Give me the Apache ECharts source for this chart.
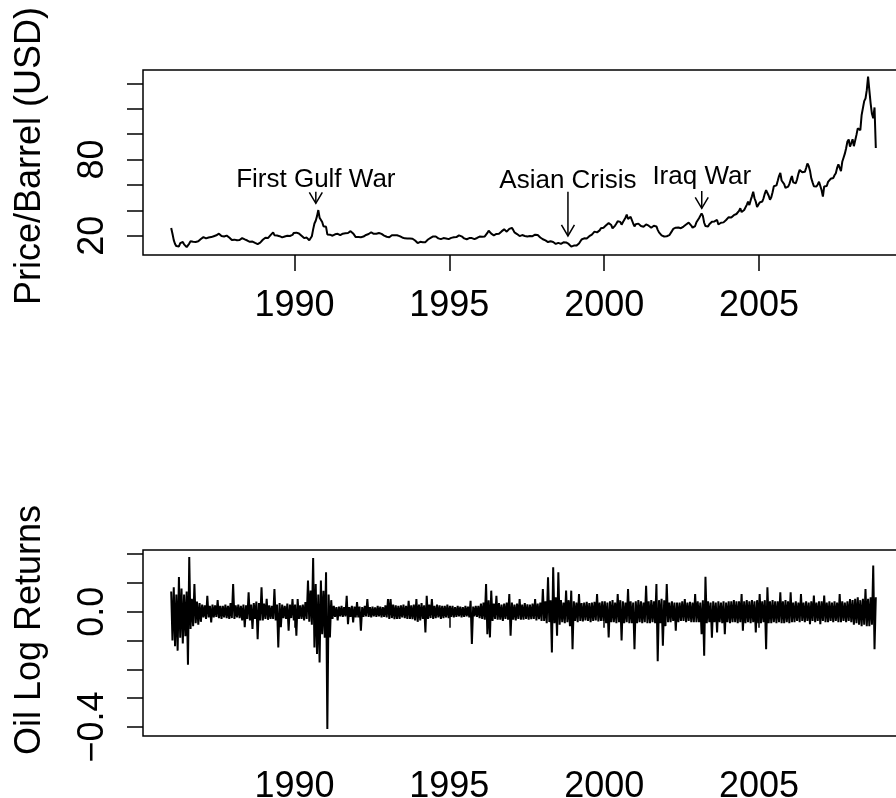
<!DOCTYPE html>
<html>
<head>
<meta charset="utf-8">
<title>Oil price and log returns</title>
<script src="https://cdn.jsdelivr.net/npm/echarts@6/dist/echarts.min.js"></script>
<style>
  html, body { margin: 0; padding: 0; background: #fff; }
  #main { width: 896px; height: 798px; }
</style>
</head>
<body>
<div id="main"></div>
<script>
// time series sampled twice a month, first point at 1986.02
var seriesStart = 1986.02;
var perYear = 24;

// WTI spot price, USD per barrel
var price = [
  26.0, 21.5, 16.5, 13.5, 11.8, 12.8, 11.5, 14.2, 15.6, 15.0, 13.2, 12.4,
  11.0, 10.6, 13.8, 15.6, 14.5, 15.2, 14.8, 15.1, 15.0, 15.6, 16.2, 17.4,
  18.6, 18.9, 17.6, 17.9, 18.2, 18.6, 18.5, 18.9, 19.4, 19.6, 19.9, 20.3,
  21.2, 21.6, 20.7, 19.8, 19.6, 19.4, 19.8, 20.1, 19.0, 18.6, 17.8, 16.6,
  17.2, 16.9, 17.1, 16.4, 16.0, 16.6, 17.6, 18.1, 17.6, 17.1, 16.8, 16.2,
  15.8, 15.2, 15.6, 15.4, 14.6, 14.3, 13.9, 13.4, 13.8, 14.6, 15.9, 16.8,
  17.6, 18.4, 17.8, 18.1, 18.9, 20.4, 21.2, 22.6, 20.4, 19.9, 20.1, 19.8,
  19.6, 19.9, 18.7, 18.4, 19.4, 19.9, 20.0, 20.3, 19.8, 19.9, 20.6, 22.2,
  23.4, 22.4, 22.5, 21.7, 20.9, 19.9, 18.9, 18.1, 17.9, 18.5, 17.0, 16.4,
  17.6, 19.6, 25.0, 29.6, 31.8, 35.4, 40.2, 34.2, 35.0, 30.8, 27.5, 28.4,
  27.0, 21.0, 20.2, 20.8, 19.8, 20.0, 20.6, 21.1, 21.0, 21.5, 20.0, 20.4,
  21.3, 21.6, 21.5, 21.9, 21.7, 22.1, 22.7, 23.6, 23.0, 21.8, 20.6, 18.9,
  18.7, 18.9, 19.2, 18.8, 18.6, 19.3, 19.9, 20.6, 20.8, 21.3, 22.0, 22.7,
  22.0, 21.5, 21.1, 21.5, 21.7, 22.1, 21.9, 21.4, 20.6, 20.1, 19.6, 19.2,
  19.3, 18.8, 19.8, 20.4, 20.2, 20.4, 20.1, 20.4, 20.1, 19.7, 19.5, 18.6,
  17.8, 17.9, 18.2, 17.8, 17.4, 17.7, 18.6, 17.6, 16.8, 16.2, 14.9, 14.2,
  14.9, 15.2, 14.6, 14.9, 14.5, 14.9, 15.8, 17.0, 17.6, 18.2, 18.7, 19.4,
  19.9, 19.4, 18.8, 17.9, 17.6, 17.3, 17.2, 18.1, 18.3, 17.8, 17.0, 17.3,
  17.8, 18.3, 18.5, 18.7, 18.2, 18.9, 19.6, 20.3, 19.9, 19.5, 18.8, 17.9,
  17.4, 17.2, 17.9, 18.1, 18.3, 18.1, 17.6, 17.3, 17.8, 18.2, 18.9, 19.3,
  18.4, 19.2, 18.9, 19.4, 20.6, 22.2, 23.9, 23.1, 21.6, 20.8, 20.3, 20.6,
  21.4, 21.2, 21.6, 22.2, 23.4, 24.6, 25.0, 24.6, 23.2, 23.9, 25.4, 25.8,
  26.2, 24.6, 22.6, 21.7, 21.3, 20.7, 19.7, 19.6, 20.5, 21.2, 19.8, 18.8,
  19.4, 19.9, 19.8, 20.1, 19.6, 20.0, 20.8, 21.6, 20.6, 19.8, 18.6, 18.0,
  17.2, 16.4, 16.3, 15.9, 15.0, 15.6, 15.6, 15.2, 15.0, 14.8, 13.5, 13.9,
  14.4, 14.0, 13.6, 13.3, 14.8, 15.6, 14.7, 14.2, 13.5, 12.5, 11.4, 10.9,
  12.2, 12.6, 12.2, 11.8, 13.8, 15.4, 17.0, 17.6, 17.9, 17.6, 17.8, 18.3,
  19.6, 20.5, 20.9, 21.8, 23.2, 24.3, 22.6, 22.3, 24.2, 25.8, 25.8, 26.3,
  26.4, 28.2, 29.2, 29.9, 31.3, 28.4, 25.7, 25.8, 28.0, 29.6, 31.4, 32.1,
  30.9, 28.7, 30.6, 32.1, 34.2, 36.6, 33.2, 33.4, 34.9, 34.1, 29.6, 27.3,
  29.0, 30.2, 29.5, 29.8, 27.6, 26.9, 27.1, 27.9, 28.9, 28.3, 27.9, 26.6,
  26.3, 26.8, 27.8, 26.9, 27.3, 24.6, 22.6, 21.8, 20.3, 18.9, 19.4, 19.5,
  19.6, 19.9, 20.4, 21.1, 23.6, 25.3, 26.1, 26.3, 27.0, 26.5, 25.0, 25.9,
  26.5, 27.2, 27.9, 28.8, 29.3, 30.3, 29.0, 28.0, 26.3, 26.5, 27.6, 30.6,
  32.2, 33.8, 35.2, 37.6, 35.6, 30.2, 27.6, 28.6, 27.3, 29.0, 30.2, 31.0,
  30.3, 31.2, 31.0, 32.4, 28.8, 28.1, 30.2, 30.6, 30.5, 31.6, 32.4, 32.9,
  34.6, 34.0, 34.4, 35.0, 36.2, 37.4, 37.1, 36.5, 39.5, 41.6, 38.6, 37.6,
  40.2, 41.3, 44.3, 46.8, 44.1, 47.8, 51.0, 54.6, 49.5, 46.8, 42.6, 43.4,
  46.2, 47.4, 46.9, 49.5, 53.2, 55.9, 53.6, 51.5, 48.4, 50.2, 54.2, 58.9,
  58.3, 59.6, 63.2, 67.0, 69.5, 63.5, 62.8, 60.6, 57.6, 57.7, 58.6, 60.6,
  64.1, 67.0, 62.0, 61.1, 61.3, 64.5, 68.7, 71.8, 71.6, 69.9, 70.8, 70.3,
  73.3, 76.8, 74.9, 71.2, 65.2, 62.0, 58.9, 58.4, 58.7, 60.3, 62.5, 61.5,
  55.8, 50.8, 58.8, 60.2, 59.1, 62.4, 63.6, 64.8, 64.4, 65.4, 67.6, 69.2,
  73.4, 76.1, 74.8, 70.8, 78.2, 81.4, 84.6, 88.9, 94.2, 95.8, 90.1, 93.0,
  96.0, 90.5, 92.0, 99.4, 104.5, 106.0, 103.2, 115.0, 113.5, 126.0, 128.0, 134.6,
  145.3, 134.5, 124.0, 116.0, 112.5, 121.0, 89.0
];

// log returns envelope
var logReturns = [
  0.07, -0.10, 0.085, -0.12, 0.06, -0.135, 0.12, -0.09, 0.08, -0.11, 0.06, -0.085,
  0.07, -0.184, 0.19, -0.06, 0.045, -0.05, 0.096, -0.04, 0.035, -0.045, 0.03, -0.035,
  0.025, -0.02, 0.022, -0.025, 0.055, -0.02, 0.02, -0.037, 0.025, -0.02, 0.022, -0.018,
  0.04, -0.022, 0.02, -0.025, 0.02, -0.02, 0.025, -0.022, 0.02, -0.025, 0.03, -0.022,
  0.096, -0.025, 0.022, -0.02, 0.025, -0.022, 0.02, -0.03, 0.025, -0.054, 0.022, -0.025,
  0.067, -0.03, 0.025, -0.06, 0.03, -0.025, 0.035, -0.095, 0.03, -0.03, 0.085, -0.03,
  0.028, -0.025, 0.045, -0.028, 0.022, -0.025, 0.02, -0.025, 0.079, -0.03, 0.025, -0.124,
  0.03, -0.054, 0.025, -0.022, 0.02, -0.025, 0.028, -0.066, 0.025, -0.022, 0.044, -0.03,
  0.025, -0.083, 0.044, -0.025, 0.022, -0.025, 0.025, -0.03, 0.033, -0.025, 0.108, -0.035,
  0.073, -0.045, 0.186, -0.124, 0.096, -0.147, 0.06, -0.176, 0.108, -0.078, 0.073, -0.09,
  0.137, -0.407, 0.06, -0.089, 0.04, -0.025, 0.02, -0.018, 0.016, -0.03, 0.018, -0.016,
  0.02, -0.018, 0.016, -0.016, 0.055, -0.043, 0.016, -0.018, 0.02, -0.037, 0.018, -0.02,
  0.033, -0.02, 0.018, -0.066, 0.016, -0.018, 0.02, -0.016, 0.044, -0.018, 0.016, -0.02,
  0.018, -0.016, 0.015, -0.018, 0.02, -0.016, 0.018, -0.02, 0.016, -0.018, 0.022, -0.02,
  0.044, -0.025, 0.044, -0.022, 0.025, -0.026, 0.022, -0.025, 0.02, -0.025, 0.022, -0.02,
  0.025, -0.022, 0.02, -0.025, 0.038, -0.025, 0.022, -0.026, 0.025, -0.03, 0.044, -0.035,
  0.025, -0.03, 0.03, -0.025, 0.022, -0.072, 0.055, -0.025, 0.025, -0.022, 0.044, -0.025,
  0.02, -0.022, 0.025, -0.02, 0.022, -0.025, 0.02, -0.022, 0.02, -0.02, 0.025, -0.022,
  0.02, -0.018, 0.02, -0.02, 0.016, -0.018, 0.02, -0.016, 0.018, -0.02, 0.016, -0.018,
  0.02, -0.016, 0.018, -0.02, 0.038, -0.112, 0.018, -0.016, 0.02, -0.018, 0.02, -0.022,
  0.028, -0.025, 0.032, -0.028, 0.096, -0.078, 0.04, -0.089, 0.073, -0.032, 0.028, -0.025,
  0.055, -0.028, 0.03, -0.028, 0.025, -0.032, 0.028, -0.025, 0.032, -0.028, 0.061, -0.083,
  0.032, -0.028, 0.025, -0.03, 0.028, -0.025, 0.044, -0.028, 0.025, -0.028, 0.03, -0.025,
  0.026, -0.028, 0.025, -0.026, 0.028, -0.025, 0.044, -0.03, 0.028, -0.026, 0.032, -0.032,
  0.079, -0.032, 0.036, -0.04, 0.119, -0.036, 0.04, -0.141, 0.154, -0.04, 0.05, -0.083,
  0.137, -0.045, 0.04, -0.036, 0.032, -0.04, 0.073, -0.036, 0.04, -0.05, 0.073, -0.13,
  0.036, -0.032, 0.032, -0.036, 0.061, -0.032, 0.03, -0.034, 0.032, -0.03, 0.034, -0.032,
  0.03, -0.036, 0.032, -0.032, 0.034, -0.03, 0.061, -0.034, 0.032, -0.032, 0.036, -0.032,
  0.036, -0.04, 0.032, -0.089, 0.036, -0.036, 0.04, -0.036, 0.032, -0.04, 0.061, -0.036,
  0.04, -0.1, 0.036, -0.04, 0.032, -0.036, 0.079, -0.04, 0.036, -0.04, 0.032, -0.13,
  0.036, -0.04, 0.04, -0.036, 0.036, -0.04, 0.032, -0.036, 0.09, -0.04, 0.036, -0.04,
  0.04, -0.036, 0.036, -0.04, 0.096, -0.172, 0.04, -0.04, 0.045, -0.118, 0.04, -0.05,
  0.096, -0.036, 0.032, -0.036, 0.036, -0.032, 0.032, -0.066, 0.032, -0.036, 0.032, -0.032,
  0.036, -0.032, 0.044, -0.036, 0.032, -0.032, 0.034, -0.036, 0.032, -0.036, 0.061, -0.036,
  0.036, -0.036, 0.032, -0.078, 0.04, -0.153, 0.121, -0.04, 0.036, -0.036, 0.032, -0.09,
  0.036, -0.036, 0.032, -0.072, 0.036, -0.036, 0.032, -0.04, 0.036, -0.078, 0.032, -0.036,
  0.036, -0.04, 0.036, -0.036, 0.04, -0.036, 0.036, -0.04, 0.036, -0.036, 0.061, -0.066,
  0.036, -0.04, 0.04, -0.036, 0.036, -0.04, 0.04, -0.036, 0.036, -0.072, 0.04, -0.04,
  0.061, -0.04, 0.036, -0.036, 0.04, -0.13, 0.085, -0.04, 0.036, -0.04, 0.04, -0.036,
  0.036, -0.04, 0.036, -0.036, 0.067, -0.04, 0.036, -0.04, 0.04, -0.036, 0.036, -0.04,
  0.067, -0.036, 0.032, -0.036, 0.036, -0.032, 0.032, -0.036, 0.061, -0.032, 0.032, -0.036,
  0.036, -0.032, 0.032, -0.043, 0.036, -0.032, 0.056, -0.036, 0.032, -0.032, 0.036, -0.043,
  0.036, -0.032, 0.056, -0.036, 0.032, -0.036, 0.036, -0.032, 0.032, -0.036, 0.036, -0.032,
  0.032, -0.036, 0.061, -0.036, 0.036, -0.032, 0.032, -0.036, 0.036, -0.032, 0.044, -0.036,
  0.04, -0.045, 0.045, -0.04, 0.05, -0.045, 0.04, -0.05, 0.045, -0.045, 0.079, -0.05,
  0.045, -0.05, 0.05, -0.045, 0.16, -0.13, 0.05
];

// axis ticks and labels
var yearTicks = [1990, 1995, 2000, 2005];
var priceTicks = [20, 40, 60, 80, 100, 120, 140];
var priceLabels = [20, 80];
var returnTicks = [-0.4, -0.3, -0.2, -0.1, 0.0, 0.1, 0.2];
var returnLabels = [-0.4, 0.0];

// annotations: [label, year, text price, arrow from, arrow to]
var events = [
  ['First Gulf War', 1990.69, 63.9, 54.6, 45.5],
  ['Asian Crisis', 1998.83, 63.1, 54.6, 19.8],
  ['Iraq War', 2003.15, 66.2, 55.2, 41.6]
];

var FONT = '"Liberation Sans", Arial, Helvetica, sans-serif';

function toPairs(values) {
  return values.map(function (v, i) { return [seriesStart + i / perYear, v]; });
}

function xAxisFor(gridIndex) {
  return {
    type: 'value', gridIndex: gridIndex, min: 1985.11, max: 2009.68,
    axisLine: { show: false },
    splitLine: { show: false },
    axisTick: { show: true, inside: false, length: 16, customValues: yearTicks,
      lineStyle: { color: '#000', width: 1.5 } },
    axisLabel: { customValues: yearTicks, margin: 33, color: '#000',
      fontFamily: FONT, fontSize: 36, formatter: function (v) { return String(v); } }
  };
}

function yAxisFor(gridIndex, min, max, ticks, labels, fmt) {
  return {
    type: 'value', gridIndex: gridIndex, min: min, max: max,
    axisLine: { show: false },
    splitLine: { show: false },
    axisTick: { show: true, inside: false, length: 16, customValues: ticks,
      lineStyle: { color: '#000', width: 1.5 } },
    axisLabel: { customValues: labels, rotate: 90, margin: 32, color: '#000',
      fontFamily: FONT, fontSize: 36, formatter: fmt }
  };
}

var chart = echarts.init(document.getElementById('main'));
chart.setOption({
  animation: false,
  backgroundColor: '#fff',
  // plot boxes run a little past the right edge of the picture, as in the original
  grid: [
    { left: 143, width: 761, top: 70, height: 185, show: true, outerBoundsMode: 'none',
      borderColor: '#000', borderWidth: 1.5, backgroundColor: 'transparent' },
    { left: 143, width: 761, top: 550, height: 186, show: true, outerBoundsMode: 'none',
      borderColor: '#000', borderWidth: 1.5, backgroundColor: 'transparent' }
  ],
  xAxis: [xAxisFor(0), xAxisFor(1)],
  yAxis: [
    yAxisFor(0, 4.8, 150.5, priceTicks, priceLabels, function (v) { return String(v); }),
    yAxisFor(1, -0.431, 0.214, returnTicks, returnLabels,
      function (v) { return v.toFixed(1).replace('-', '\u2212'); })
  ],
  graphic: [
    { type: 'text', x: 30, y: 156, rotation: Math.PI / 2,
      style: { text: 'Price/Barrel (USD)', font: '36px ' + FONT, fill: '#000',
        align: 'center', verticalAlign: 'middle' } },
    { type: 'text', x: 30, y: 630, rotation: Math.PI / 2,
      style: { text: 'Oil Log Returns', font: '36px ' + FONT, fill: '#000',
        align: 'center', verticalAlign: 'middle' } }
  ],
  series: [
    {
      type: 'line', xAxisIndex: 0, yAxisIndex: 0,
      data: toPairs(price), showSymbol: false, symbol: 'none',
      lineStyle: { color: '#000', width: 2 }
    },
    {
      type: 'line', xAxisIndex: 1, yAxisIndex: 1,
      data: toPairs(logReturns), showSymbol: false, symbol: 'none',
      lineStyle: { color: '#000', width: 2 }
    },
    {
      type: 'custom', xAxisIndex: 0, yAxisIndex: 0,
      data: events.map(function (e) { return [e[1], e[2], e[3], e[4]]; }),
      renderItem: function (params, api) {
        var label = events[params.dataIndex][0];
        var t = api.coord([api.value(0), api.value(1)]);
        var a = api.coord([api.value(0), api.value(2)]);
        var b = api.coord([api.value(0), api.value(3)]);
        var ls = { stroke: '#000', lineWidth: 1.5, fill: null };
        return {
          type: 'group',
          children: [
            { type: 'text', style: { text: label, x: t[0], y: t[1], fill: '#000',
                font: '26px ' + FONT, align: 'center', verticalAlign: 'middle' } },
            { type: 'line', shape: { x1: a[0], y1: a[1], x2: b[0], y2: b[1] }, style: ls },
            { type: 'polyline', shape: { points: [[b[0] - 6.5, b[1] - 11], [b[0], b[1]], [b[0] + 6.5, b[1] - 11]] },
              style: ls }
          ]
        };
      }
    }
  ]
});
</script>
</body>
</html>
